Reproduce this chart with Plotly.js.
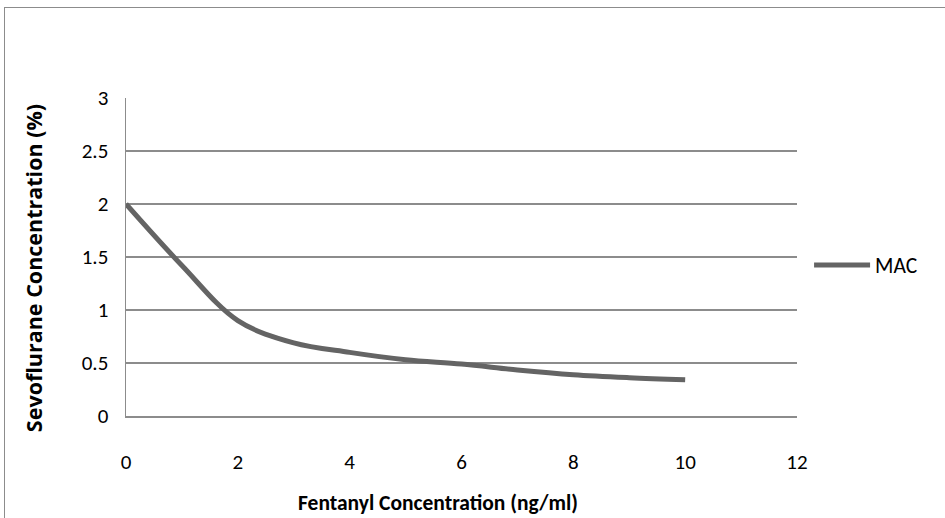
<!DOCTYPE html>
<html><head><meta charset="utf-8">
<script src="https://cdn.plot.ly/plotly-3.0.1.min.js"></script>
<style>
html,body{margin:0;padding:0;background:#fff;overflow:hidden}
#frame{position:absolute;left:4px;top:7px;width:1000px;height:600px;border:1px solid #8c8c8c;box-sizing:border-box}
#chart{position:absolute;left:0;top:0;width:945px;height:518px}
</style></head>
<body>
<div id="frame"></div>
<div id="chart"></div>
<script>
const fentanyl = [0, 1, 2, 3, 4, 5, 6, 7, 8, 9, 10];
const macValues = [2.0, 1.42, 0.9, 0.69, 0.6, 0.53, 0.49, 0.435, 0.39, 0.362, 0.342];
const xTicks = [0, 2, 4, 6, 8, 10, 12];
const yTicks = [0, 0.5, 1, 1.5, 2, 2.5, 3];
const yTickText = ['0', '0.5', '1', '1.5', '2', '2.5', '3'];
const xTitle = 'Fentanyl Concentration (ng/ml)';
const yTitle = 'Sevoflurane Concentration (%)';
const seriesName = 'MAC';

const fam = 'Carlito, Calibri, Lato, sans-serif';
const tickFont = {family: fam, size: 21, color: '#000'};

Plotly.newPlot('chart', [{
  x: fentanyl, y: macValues, type: 'scatter', mode: 'lines', name: seriesName,
  line: {color: '#646464', width: 5, shape: 'spline', smoothing: 1}
}], {
  width: 945, height: 518,
  margin: {l: 126, r: 148, t: 98, b: 102},
  paper_bgcolor: 'rgba(0,0,0,0)', plot_bgcolor: 'rgba(0,0,0,0)',
  xaxis: {
    range: [0, 12], tickvals: xTicks, showgrid: false, zeroline: false,
    showline: true, linecolor: '#8c8c8c', linewidth: 1.5, ticks: '',
    tickfont: tickFont, ticklabelstandoff: 26
  },
  yaxis: {
    range: [0, 3], tickvals: yTicks, ticktext: yTickText, showgrid: true, gridcolor: '#8c8c8c', gridwidth: 1.5,
    zeroline: false, showline: true, linecolor: '#8c8c8c', linewidth: 1.5, ticks: '',
    tickfont: tickFont, ticklabelstandoff: 12
  },
  annotations: [
    {text: '<b>' + xTitle + '</b>', xref: 'paper', yref: 'paper', x: 0.465, y: -0.274,
     xanchor: 'center', yanchor: 'middle', showarrow: false,
     font: {family: fam, size: 21.5, color: '#000'}},
    {text: '<b>' + yTitle + '</b>', xref: 'paper', yref: 'paper', x: -0.1386, y: 0.465,
     xanchor: 'center', yanchor: 'middle', showarrow: false, textangle: -90,
     font: {family: '"Open Sans", sans-serif', size: 21.5, color: '#000'}}
  ],
  showlegend: true,
  legend: {x: 1.018, y: 0.475, xanchor: 'left', yanchor: 'middle', font: {family: fam, size: 21.5, color: '#000'}, itemwidth: 56, bgcolor: 'rgba(0,0,0,0)'}
}, {staticPlot: true});
</script>
</body></html>
